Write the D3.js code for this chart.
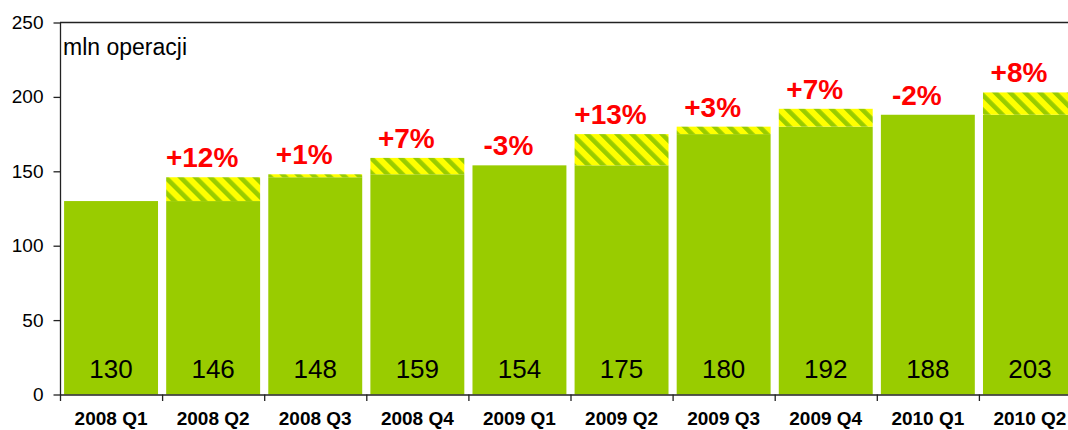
<!DOCTYPE html>
<html>
<head>
<meta charset="utf-8">
<script src="https://cdn.jsdelivr.net/npm/d3@7"></script>
<style>
    body { margin: 0; background: #fff; }
    svg { display: block; font-family: "Liberation Sans", Arial, sans-serif; }
</style>
</head>
<body>
<div id="chart"></div>
<script>
var categories = ["2008 Q1", "2008 Q2", "2008 Q3", "2008 Q4", "2009 Q1",
                  "2009 Q2", "2009 Q3", "2009 Q4", "2010 Q1", "2010 Q2"];
var values = [130, 146, 148, 159, 154, 175, 180, 192, 188, 203];
var changes = ["", "+12%", "+1%", "+7%", "-3%", "+13%", "+3%", "+7%", "-2%", "+8%"];
var yTicks = [0, 50, 100, 150, 200, 250];

var width = 1068, height = 430;
// plot box; the last band runs off the right edge of the picture
var plot = { left: 60, top: 22.5, bottom: 394.5, right: 1081 };

var green = "#99cc00";

var svg = d3.select("#chart").append("svg")
    .attr("width", width)
    .attr("height", height);

// yellow with green diagonal stripes for the growth part
var pat = svg.append("defs").append("pattern")
    .attr("id", "hatch")
    .attr("patternUnits", "userSpaceOnUse")
    .attr("width", 10.6)
    .attr("height", 10.6)
    .attr("patternTransform", "rotate(-45)");
pat.append("rect").attr("width", 10.6).attr("height", 10.6).attr("fill", "#ffff00");
pat.append("rect").attr("width", 4.6).attr("height", 10.6).attr("fill", green);

var x = d3.scaleBand()
    .domain(categories)
    .range([plot.left, plot.right])
    .paddingInner(0.08)
    .paddingOuter(0.04);

var y = d3.scaleLinear()
    .domain([0, 250])
    .range([plot.bottom, plot.top]);

var data = categories.map(function (c, i) {
    return { cat: c, value: values[i], prev: i > 0 ? values[i - 1] : values[i], change: changes[i] };
});

// green part up to previous quarter (or the whole bar when it fell)
svg.append("g").selectAll("rect")
    .data(data)
    .enter().append("rect")
    .attr("x", function (d) { return x(d.cat); })
    .attr("width", x.bandwidth())
    .attr("y", function (d) { return y(Math.min(d.value, d.prev)); })
    .attr("height", function (d) { return y(0) - y(Math.min(d.value, d.prev)); })
    .attr("fill", green);

// hatched growth
svg.append("g").selectAll("rect")
    .data(data.filter(function (d) { return d.value > d.prev; }))
    .enter().append("rect")
    .attr("x", function (d) { return x(d.cat); })
    .attr("width", x.bandwidth())
    .attr("y", function (d) { return y(d.value); })
    .attr("height", function (d) { return y(d.prev) - y(d.value); })
    .attr("fill", "url(#hatch)");

// values inside the bars
svg.append("g").selectAll("text")
    .data(data)
    .enter().append("text")
    .attr("x", function (d) { return x(d.cat) + x.bandwidth() / 2; })
    .attr("y", y(0) - 17)
    .attr("text-anchor", "middle")
    .attr("font-size", "26px")
    .attr("fill", "#000")
    .text(function (d) { return d.value; });

// percent change above the bars (sit a little left of centre in the original)
svg.append("g").selectAll("text")
    .data(data.filter(function (d) { return d.change; }))
    .enter().append("text")
    .attr("x", function (d) { return x(d.cat) + x.bandwidth() / 2 - 11; })
    .attr("y", function (d) { return y(d.value) - 10; })
    .attr("text-anchor", "middle")
    .attr("font-size", "28px")
    .attr("font-weight", "bold")
    .attr("fill", "#ff0000")
    .text(function (d) { return d.change; });

// y axis
var yAxis = svg.append("g")
    .attr("transform", "translate(" + plot.left + ",0)")
    .call(d3.axisLeft(y).tickValues(yTicks).tickSize(6.5).tickPadding(10).tickSizeOuter(0));
yAxis.selectAll("text").attr("font-size", "19px").attr("fill", "#000").style("font-family", "inherit");
yAxis.selectAll("line, path").attr("stroke", "#222").attr("stroke-width", 1.3);

// x axis: ticks between categories, labels centred
var xb = d3.scaleLinear().domain([0, categories.length]).range([plot.left, plot.right]);
var xAxis = svg.append("g")
    .attr("transform", "translate(0," + plot.bottom + ")")
    .call(d3.axisBottom(xb).ticks(categories.length).tickSize(6.5).tickFormat("").tickSizeOuter(0));
xAxis.selectAll("line, path").attr("stroke", "#222").attr("stroke-width", 1.3);

svg.append("g").selectAll("text")
    .data(categories)
    .enter().append("text")
    .attr("x", function (d) { return x(d) + x.bandwidth() / 2; })
    .attr("y", 425)
    .attr("text-anchor", "middle")
    .attr("font-size", "19px")
    .attr("font-weight", "bold")
    .attr("fill", "#000")
    .text(function (d) { return d; });

// top frame line
svg.append("line")
    .attr("x1", plot.left).attr("x2", width)
    .attr("y1", plot.top).attr("y2", plot.top)
    .attr("stroke", "#222")
    .attr("stroke-width", 1.3);

svg.append("text")
    .attr("x", 63)
    .attr("y", 54.5)
    .attr("font-size", "23px")
    .attr("fill", "#000")
    .text("mln operacji");
</script>
</body>
</html>
